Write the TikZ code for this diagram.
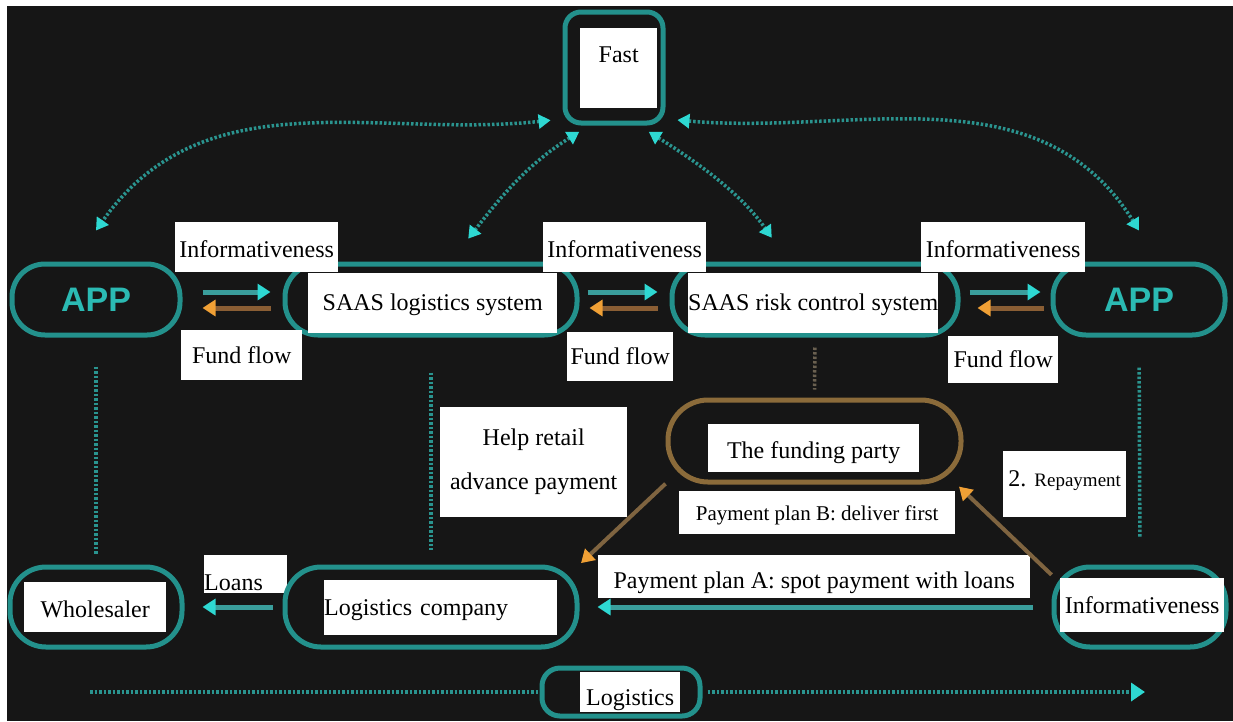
\documentclass[tikz,border=0pt]{standalone}
\usepackage{fontspec}
\setmainfont{Liberation Serif}
\newfontfamily\lblfont{Liberation Serif}
\newfontfamily\appfont{Liberation Sans}
\usetikzlibrary{arrows.meta}
\definecolor{bgc}{HTML}{161616}
\definecolor{tealb}{HTML}{23918C}
\definecolor{tealbody}{HTML}{3A9E9C}
\definecolor{cyanhead}{HTML}{2ED8D2}
\definecolor{apptext}{HTML}{2BBAB3}
\definecolor{dotc}{HTML}{2A948F}
\definecolor{orbody}{HTML}{8A5E34}
\definecolor{orhead}{HTML}{F0A035}
\definecolor{brownb}{HTML}{8B6B3A}
\definecolor{brownbody}{HTML}{7F6440}
\definecolor{browndot}{HTML}{6A6050}
\begin{document}
\begin{tikzpicture}[x=1pt,y=-1pt,
  pill/.style={draw=tealb, line width=5pt, rounded corners=#1, inner sep=0pt},
  bpill/.style={draw=brownb, line width=5pt, rounded corners=#1, inner sep=0pt},
  apptxt/.style={text=apptext, font=\appfont\bfseries\fontsize{34}{34}\selectfont},
  lbl/.style={fill=white, text=black, inner sep=0pt, font=\lblfont\fontsize{24}{28}\selectfont},
  tarrow/.style={draw=tealbody, line width=5pt, -{Triangle[length=13pt,width=16pt,color=cyanhead]}},
  oarrow/.style={draw=orbody, line width=5pt, -{Triangle[length=13pt,width=16pt,color=orhead]}},
  barrow/.style={draw=brownbody, line width=4pt, -{Triangle[length=13pt,width=15pt,color=orhead]}},
  vdot/.style={draw=dotc, line width=3.5pt, dash pattern=on 2.5pt off 2pt},
  bdot/.style={draw=browndot, line width=3.5pt, dash pattern=on 2.5pt off 2pt},
  darrow/.style={draw=dotc, line width=3.5pt, dash pattern=on 2.5pt off 2pt,
    {Triangle[length=12pt,width=14pt,color=cyanhead]}-{Triangle[length=12pt,width=14pt,color=cyanhead]}},
  harrow/.style={draw=dotc, line width=3.5pt, dash pattern=on 2.5pt off 2pt,
    -{Triangle[length=14pt,width=18pt,color=cyanhead]}}
]
\useasboundingbox (0,0) rectangle (1233,721);
\fill[white] (0,0) rectangle (1233,721);
\fill[bgc] (7,6) rectangle (1233,721);

% Fast
\node[pill=16, minimum width=98, minimum height=111] (fast) at (614,67.5) {};
\node[lbl, anchor=north west, minimum width=77, text height=34, text depth=46] (fastlbl) at (580,28) {Fast};

% Row 2 pills
\node[pill=33, minimum width=168, minimum height=71, apptxt] (appL) at (96,299.5) {APP};
\node[pill=33, minimum width=292, minimum height=71] (saasL) at (431,299.5) {};
\node[pill=33, minimum width=286, minimum height=71] (saasR) at (815,299.5) {};
\node[pill=33, minimum width=172, minimum height=71, apptxt] (appR) at (1139,299.5) {APP};

% Row 2 labels
\node[lbl, anchor=north west, minimum width=163, text height=35, text depth=15] (info1) at (175,222) {Informativeness};
\node[lbl, anchor=north west, minimum width=163, text height=35, text depth=15] (info2) at (543,222) {Informativeness};
\node[lbl, anchor=north west, minimum width=164, text height=35, text depth=15] (info3) at (921,222) {Informativeness};
\node[lbl, anchor=north west, minimum width=249, text height=37, text depth=23] (saasLlbl) at (308,273) {SAAS logistics system};
\node[lbl, anchor=north west, minimum width=250, text height=37, text depth=23] (saasRlbl) at (688,273) {SAAS risk control system};
\node[lbl, anchor=north west, minimum width=121, text height=33, text depth=17] (ff1) at (181,330) {Fund flow};
\node[lbl, anchor=north west, minimum width=106, text height=32, text depth=17] (ff2) at (567,332) {Fund flow};
\node[lbl, anchor=north west, minimum width=110, text height=31, text depth=16] (ff3) at (948,336) {Fund flow};

% Row 2 arrows
\draw[tarrow, shorten <=20pt, shorten >=12pt] ([yshift=7.5pt]appL.east) -- ([yshift=7.5pt]saasL.west);
\draw[oarrow, shorten <=12pt, shorten >=20pt] ([yshift=-8.5pt]saasL.west) -- ([yshift=-8.5pt]appL.east);
\draw[tarrow, shorten <=8pt, shorten >=12pt] ([yshift=7.5pt]saasL.east) -- ([yshift=7.5pt]saasR.west);
\draw[oarrow, shorten <=12pt, shorten >=10pt] ([yshift=-8.5pt]saasR.west) -- ([yshift=-8.5pt]saasL.east);
\draw[tarrow, shorten <=9pt, shorten >=10pt] ([yshift=7.5pt]saasR.east) -- ([yshift=7.5pt]appR.west);
\draw[oarrow, shorten <=7pt, shorten >=17pt] ([yshift=-8.5pt]appR.west) -- ([yshift=-8.5pt]saasR.east);

% Curved dotted arrows from Fast
\draw[darrow, shorten <=12pt] (fast.225) to[out=186,in=55] ([yshift=31pt]appL.north);
\draw[darrow, shorten <=12pt, shorten >=29pt] (fast.247) to[out=212,in=52] (saasL.63);
\draw[darrow, shorten <=12pt, shorten >=29pt] (fast.-67) to[out=-32,in=125] (saasR.125);
\draw[darrow, shorten <=12pt] (fast.-45) to[out=-5,in=122] ([yshift=31pt]appR.north);

% Row 3
\node[lbl, anchor=north west, minimum width=187, minimum height=110, align=center, font=\lblfont\fontsize{24}{44}\selectfont] (help) at (440,407) {Help retail\\advance payment};
\node[bpill=40, minimum width=293, minimum height=82] (fund) at (814.5,441) {};
\node[lbl, anchor=north west, minimum width=211, text height=34, text depth=14] (fundlbl) at (708,424) {The funding party};
\node[lbl, anchor=north west, minimum width=276, text height=29, text depth=14, font=\lblfont\fontsize{21}{25}\selectfont] (planB) at (679,491) {Payment plan B: deliver first};
\node[lbl, anchor=north west, minimum width=123, text height=35, text depth=31] (repay) at (1003,451) {2. {\fontsize{19}{22}\selectfont Repayment}};

% Row 4
\node[pill=36, minimum width=172, minimum height=80] (whole) at (96,607) {};
\node[lbl, anchor=north west, minimum width=142, text height=35, text depth=15] (wholelbl) at (24,582) {Wholesaler};
\node[lbl, anchor=north west, text width=83, align=left, text height=35, text depth=3] (loans) at (204,555) {Loans};
\node[pill=36, minimum width=292, minimum height=80] (logco) at (431,607) {};
\node[lbl, anchor=north west, text width=233, align=left, text height=35, text depth=20] (logcolbl) at (324,580) {Logistics company};
\node[lbl, anchor=north west, minimum width=432, text height=33, text depth=10] (planA) at (598,555) {Payment plan A: spot payment with loans};
\node[pill=36, minimum width=172, minimum height=80] (infoBR) at (1140,607) {};
\node[lbl, anchor=north west, minimum width=164, text height=35, text depth=19] (infoBRlbl) at (1060,578) {Informativeness};

% Bottom logistics
\node[pill=18, minimum width=158, minimum height=48] (logi) at (621,692) {};
\node[lbl, anchor=north west, minimum width=100, text height=33, text depth=7] (logilbl) at (580,672) {Logistics};
\coordinate (logL) at (90,692);
\coordinate (logR) at (1145,692);

% Bottom connectors
\draw[tarrow, shorten <=10pt, shorten >=18pt] (logco.west) -- (whole.east);
\draw[tarrow, shorten <=19pt, shorten >=18pt] (infoBR.west) -- (logco.east);
\draw[barrow, shorten >=3pt] (infoBR.160) -- (fund.-17);
\draw[barrow, shorten >=2pt] (fund.196) -- (logco.north east);

% Vertical dotted lines
\draw[vdot, shorten <=29pt, shorten >=10pt] (appL.south) -- (whole.north);
\draw[vdot, shorten <=35pt, shorten >=15pt] (saasL.south) -- (logco.north);
\draw[bdot, shorten <=10pt, shorten >=8pt] (saasR.south) -- (fund.north);
\draw[vdot, shorten <=30pt, shorten >=27pt] (appR.south) -- (infoBR.north);

% Logistics line
\draw[vdot] (logL) -- (logi.west);
\draw[harrow, shorten <=5pt] (logi.east) -- (logR);
\end{tikzpicture}
\end{document}
